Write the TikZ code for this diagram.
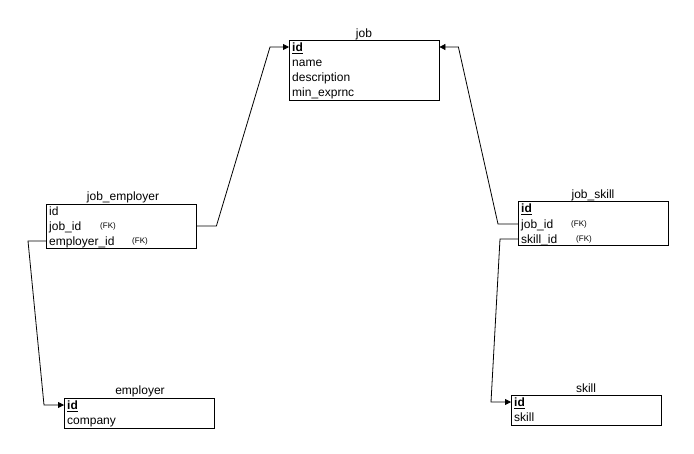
\documentclass[tikz,border=0pt]{standalone}
\usepackage{fontspec}
\setmainfont{Liberation Sans}
\usetikzlibrary{arrows.meta}
\begin{document}
\begin{tikzpicture}[x=1pt,y=-1pt,
  tbl/.style={draw, line width=0.8pt, anchor=north west, inner sep=0pt},
  rowtxt/.style={anchor=west, text width=144pt, inner xsep=3pt, inner ysep=0pt, text height=10pt, text depth=0.5pt, align=left, font=\fontsize{12}{14}\selectfont},
  title/.style={font=\fontsize{12}{14}\selectfont, inner sep=0pt},
  fk/.style={font=\fontsize{8}{9}\selectfont, anchor=west, inner sep=0pt},
  conn/.style={draw, line width=0.8pt, -{Triangle[length=6pt,width=6pt]}}]
\useasboundingbox (0,0) rectangle (694,453);
% job
\node[tbl, minimum width=150pt, minimum height=60pt] (job) at (289,40) {};
\node[title] (jobt) at (364,34) {job};
\node[rowtxt] (job-id) at (289,47) {\underline{\textbf{id}}};
\node[rowtxt] (job-name) at (289,62) {name};
\node[rowtxt] (job-desc) at (289,77) {description};
\node[rowtxt] (job-min) at (289,92) {min\_exprnc};
% job_employer
\node[tbl, minimum width=150pt, minimum height=44pt] (je) at (46,204) {};
\node[title] (jet) at (123,197) {job\_employer};
\node[rowtxt] (je-id) at (46,211) {id};
\node[rowtxt] (je-jobid) at (46,226) {job\_id};
\node[rowtxt] (je-empid) at (46,241) {employer\_id};
\node[fk] (je-fk1) at (100,226) {(FK)};
\node[fk] (je-fk2) at (132,241) {(FK)};
% job_skill
\node[tbl, minimum width=150pt, minimum height=44pt] (js) at (518,201) {};
\node[title] (jst) at (593,195) {job\_skill};
\node[rowtxt] (js-id) at (518,208) {\underline{\textbf{id}}};
\node[rowtxt] (js-jobid) at (518,224) {job\_id};
\node[rowtxt] (js-skillid) at (518,239) {skill\_id};
\node[fk] (js-fk1) at (571,224) {(FK)};
\node[fk] (js-fk2) at (576,239) {(FK)};
% employer
\node[tbl, minimum width=150pt, minimum height=30pt] (emp) at (64,398) {};
\node[title] (empt) at (140,391) {employer};
\node[rowtxt] (emp-id) at (64,405) {\underline{\textbf{id}}};
\node[rowtxt] (emp-co) at (64,420) {company};
% skill
\node[tbl, minimum width=150pt, minimum height=30pt] (sk) at (511,395) {};
\node[title] (skt) at (586,388) {skill};
\node[rowtxt] (sk-id) at (511,402) {\underline{\textbf{id}}};
\node[rowtxt] (sk-sk) at (511,417) {skill};
% connectors
\draw[conn] (je-jobid.east) -- ++(20,0) -- ([xshift=-19pt]job-id.west) -- (job-id.west);
\draw[conn] (js-jobid.west) -- ++(-20,0) -- ([xshift=19pt]job-id.east) -- (job-id.east);
\draw[conn] (je-empid.west) -- ++(-18,0) -- ([xshift=-20pt]emp-id.west) -- (emp-id.west);
\draw[conn] (js-skillid.west) -- ++(-18,0) -- ([xshift=-20pt]sk-id.west) -- (sk-id.west);
\end{tikzpicture}
\end{document}
